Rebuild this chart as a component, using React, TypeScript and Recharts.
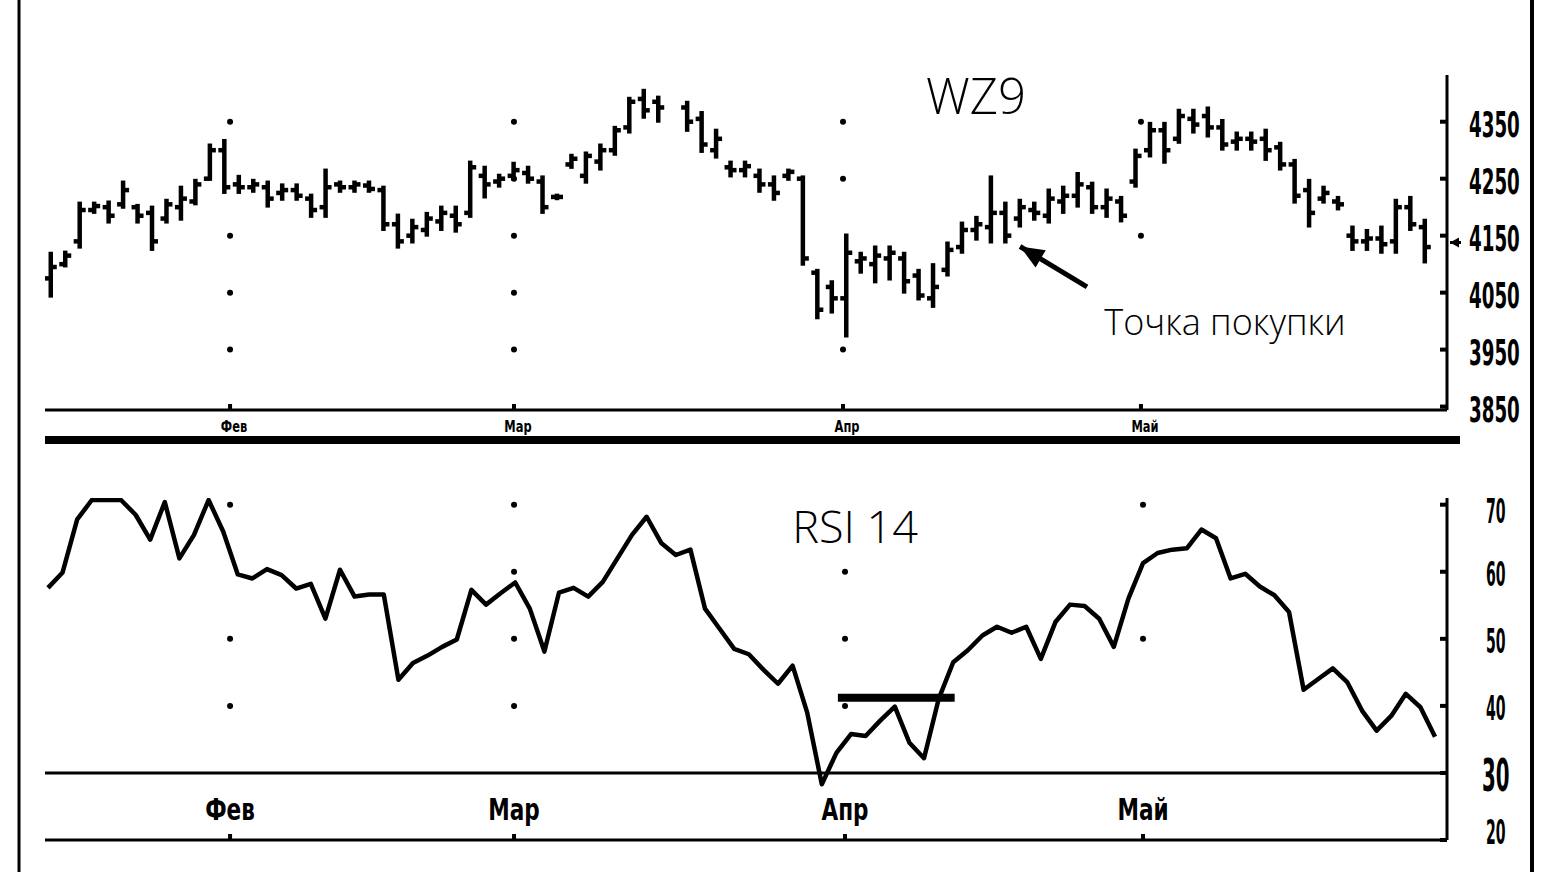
import React from 'react';
import { ComposedChart, Bar, Line, XAxis, YAxis, ReferenceLine, ReferenceDot } from 'recharts';

// WZ9 daily bars (index = trading day, 43 is a missing day)
const HIGH = [
  4120, 4122, 4208, 4208, 4210, 4245, 4204, 4201, 4213, 4236,
  4248, 4310, 4318, 4255, 4248, 4245, 4240, 4240, 4222, 4266,
  4245, 4245, 4245, 4236, 4187, 4178, 4190, 4201, 4201, 4280,
  4271, 4257, 4278, 4271, 4254, 4222, 4292, 4296, 4310, 4341,
  4392, 4406, 4394, null, 4385, 4367, 4336, 4280, 4280, 4266,
  4254, 4266, 4254, 4090, 4070, 4152, 4120, 4131, 4131, 4120,
  4090, 4100, 4138, 4173, 4183, 4254, 4208, 4213, 4208, 4231,
  4236, 4260, 4243, 4231, 4218, 4301, 4348, 4348, 4371, 4371,
  4375, 4353, 4331, 4331, 4336, 4313, 4283, 4248, 4236, 4218,
  4166, 4160, 4166, 4213, 4218, 4178,
];
const LOW = [
  4043, 4096, 4129, 4190, 4173, 4199, 4173, 4125, 4173, 4178,
  4205, 4248, 4225, 4225, 4227, 4201, 4213, 4213, 4183, 4183,
  4227, 4227, 4227, 4160, 4129, 4138, 4150, 4160, 4157, 4183,
  4217, 4236, 4248, 4243, 4190, 4214, 4269, 4243, 4266, 4292,
  4331, 4357, 4350, null, 4334, 4297, 4287, 4254, 4254, 4227,
  4213, 4248, 4099, 4005, 4015, 3973, 4085, 4068, 4073, 4050,
  4038, 4025, 4080, 4120, 4143, 4138, 4138, 4166, 4178, 4173,
  4190, 4201, 4190, 4183, 4175, 4236, 4289, 4278, 4313, 4331,
  4324, 4301, 4301, 4301, 4283, 4266, 4208, 4166, 4208, 4196,
  4125, 4125, 4120, 4120, 4160, 4103,
];
const OPEN = [
  4075, 4100, 4140, 4195, 4200, 4205, 4200, 4190, 4180, 4200,
  4210, 4250, 4300, 4240, 4235, 4235, 4225, 4230, 4215, 4200,
  4240, 4235, 4238, 4230, 4170, 4150, 4160, 4175, 4185, 4190,
  4255, 4245, 4255, 4260, 4245, 4218, 4275, 4255, 4280, 4300,
  4340, 4390, 4385, null, 4375, 4355, 4300, 4270, 4265, 4255,
  4240, 4255, 4250, 4085, 4060, 4040, 4105, 4100, 4110, 4110,
  4080, 4040, 4090, 4130, 4160, 4165, 4190, 4180, 4195, 4185,
  4210, 4220, 4235, 4200, 4210, 4245, 4300, 4335, 4320, 4355,
  4360, 4340, 4315, 4320, 4320, 4305, 4275, 4230, 4215, 4210,
  4150, 4140, 4145, 4140, 4200, 4165,
];
const CLOSE = [
  4095, 4115, 4195, 4202, 4185, 4230, 4185, 4140, 4205, 4215,
  4240, 4300, 4235, 4235, 4240, 4215, 4230, 4220, 4195, 4235,
  4235, 4240, 4232, 4170, 4140, 4165, 4180, 4190, 4170, 4270,
  4240, 4250, 4265, 4250, 4200, 4218, 4285, 4290, 4300, 4335,
  4385, 4370, 4375, null, 4350, 4310, 4320, 4265, 4272, 4240,
  4225, 4262, 4110, 4020, 4040, 4120, 4110, 4115, 4120, 4070,
  4045, 4060, 4125, 4160, 4170, 4190, 4150, 4200, 4190, 4215,
  4220, 4240, 4200, 4215, 4185, 4290, 4335, 4300, 4360, 4345,
  4340, 4310, 4320, 4315, 4300, 4275, 4220, 4190, 4225, 4205,
  4140, 4145, 4135, 4200, 4170, 4130,
];

// RSI 14
const RSI = [
  57.6, 59.9, 67.8, 70.7, 70.7, 70.7, 68.5, 64.8, 70.4, 62.0,
  65.5, 70.7, 66.0, 59.6, 59.0, 60.4, 59.5, 57.5, 58.2, 53.0,
  60.3, 56.3, 56.6, 56.6, 43.9, 46.4, 47.5, 48.8, 49.9, 57.3,
  55.1, 56.8, 58.4, 54.5, 48.1, 56.9, 57.6, 56.3, 58.5, 62.0,
  65.5, 68.2, 64.3, 62.5, 63.3, 54.5, 51.5, 48.5, 47.7, 45.4,
  43.3, 46.0, 39.0, 28.3, 33.0, 35.8, 35.5, 37.8, 39.9, 34.5,
  32.2, 41.0, 46.5, 48.3, 50.5, 51.8, 50.9, 51.8, 47.0, 52.5,
  55.1, 54.9, 53.0, 48.8, 56.0, 61.3, 62.8, 63.3, 63.5, 66.3,
  65.0, 59.0, 59.7, 57.8, 56.5, 54.0, 42.4, 44.0, 45.6, 43.5,
  39.3, 36.3, 38.5, 41.8, 39.8, 35.4,
];

const MONTHS = ['Фев', 'Мар', 'Апр', 'Май'];
const MONTH_POS_PRICE = [12.38, 32.01, 54.76, 75.36];
const MONTH_POS_RSI = [12.47, 31.92, 54.59, 75.0];

const PRICE_TICKS = [3850, 3950, 4050, 4150, 4250, 4350];
const RSI_TICKS = [20, 30, 40, 50, 60, 70];

// dotted grid marks visible in the picture: [month number, level]
const PRICE_DOTS: [number, number][] = [
  [0, 4350], [0, 4150], [0, 4050], [0, 3950],
  [1, 4350], [1, 4250], [1, 4150], [1, 4050], [1, 3950],
  [2, 4350], [2, 4250], [2, 3950],
  [3, 4350], [3, 4150],
];
const RSI_DOTS: [number, number][] = [
  [0, 70], [0, 50], [0, 40],
  [1, 70], [1, 60], [1, 50], [1, 40],
  [2, 60], [2, 50], [2, 40],
  [3, 70], [3, 50],
];

const LAST_PRICE = 4138;
const BUY_LEVEL = 41.2;
const BUY_FROM = 54.1;
const BUY_TO = 62.1;
const ARROW_TAIL = { x: 71.63, y: 4060 };
const ARROW_TIP = { x: 67.0, y: 4131 };

const PRICE_X_DOMAIN: [number, number] = [-0.415, 96.52];
const RSI_X_DOMAIN: [number, number] = [-0.205, 95.82];

const NARROW = '"DejaVu Sans Condensed", "Liberation Sans Narrow", sans-serif';
const LIGHT = '"Open Sans", "Noto Sans", sans-serif';

const priceData = HIGH.map((h, i) => ({
  i,
  range: h == null ? null : [LOW[i], h],
  high: h,
  low: LOW[i],
  open: OPEN[i],
  close: CLOSE[i],
}));

const rsiData = RSI.map((v, i) => ({ i, rsi: v }));

function OhlcBar(props: any) {
  const { x, y, width, height, payload } = props;
  if (payload == null || payload.high == null) return null;
  const top = Math.min(y, y + height);
  const h = Math.abs(height);
  const cx = x + width / 2;
  const span = payload.high - payload.low || 1;
  const yo = top + ((payload.high - payload.open) / span) * h;
  const yc = top + ((payload.high - payload.close) / span) * h;
  return (
    <g stroke="#000" strokeWidth={4.5}>
      <line x1={cx} y1={top - 1} x2={cx} y2={top + h + 1} />
      <line x1={cx - 6} y1={yo} x2={cx} y2={yo} />
      <line x1={cx} y1={yc} x2={cx + 6} y2={yc} />
    </g>
  );
}

// condensed label: squeezed horizontally with a transform
function Squeezed({ x, y, sx, size, anchor, children }: any) {
  return (
    <text
      transform={`translate(${x},${y}) scale(${sx},1)`}
      textAnchor={anchor || 'start'}
      fontFamily={NARROW}
      fontWeight={700}
      fontSize={size}
      fill="#000"
    >
      {children}
    </text>
  );
}

function PriceTick({ x, y, payload }: any) {
  return (
    <g>
      <line x1={x - 7} y1={y} x2={x} y2={y} stroke="#000" strokeWidth={4} />
      <Squeezed x={x + 22} y={y + 15} sx={0.58} size={35}>
        {payload.value}
      </Squeezed>
    </g>
  );
}

function RsiTick({ x, y, payload }: any) {
  const big = payload.value === 30;
  const shift = payload.value === 20 ? -8 : payload.value === 70 ? 6 : 2;
  return (
    <g>
      <line x1={x - 7} y1={y} x2={x} y2={y} stroke="#000" strokeWidth={4} />
      <Squeezed x={x + (big ? 35 : 39)} y={y + shift + (big ? 16 : 12)} sx={big ? 0.5 : 0.46} size={big ? 44 : 34}>
        {payload.value}
      </Squeezed>
    </g>
  );
}

function MonthTickPrice({ x, y, index }: any) {
  return (
    <g>
      <line x1={x} y1={y - 6} x2={x} y2={y} stroke="#000" strokeWidth={4} />
      <Squeezed x={x + 4} y={y + 22} sx={0.85} size={15} anchor="middle">
        {MONTHS[index]}
      </Squeezed>
    </g>
  );
}

function MonthTickRsi({ x, y, index }: any) {
  return (
    <g>
      <line x1={x} y1={y - 6} x2={x} y2={y} stroke="#000" strokeWidth={4} />
      <Squeezed x={x} y={y - 20} sx={0.8} size={30} anchor="middle">
        {MONTHS[index]}
      </Squeezed>
    </g>
  );
}

function ArrowHead({ cx, cy }: any) {
  if (cx == null || cy == null) return null;
  const ang = Math.atan2(-40, -67);
  const len = 24;
  const half = 10;
  const bx = cx - Math.cos(ang) * len;
  const by = cy - Math.sin(ang) * len;
  const px = -Math.sin(ang) * half;
  const py = Math.cos(ang) * half;
  return <polygon points={`${cx},${cy} ${bx + px},${by + py} ${bx - px},${by - py}`} fill="#000" />;
}

function LastPriceMark({ cx, cy }: any) {
  if (cx == null || cy == null) return null;
  return (
    <g>
      <polygon points={`${cx + 3},${cy} ${cx + 12},${cy - 5} ${cx + 12},${cy + 5}`} fill="#000" />
      <line x1={cx + 3} y1={cy} x2={cx + 14} y2={cy} stroke="#000" strokeWidth={3} />
    </g>
  );
}

const axisLine = { stroke: '#000', strokeWidth: 3 };

export default function App() {
  return (
    <div style={{ position: 'absolute', left: 0, top: 0, width: 1548, height: 872, background: '#fff', overflow: 'hidden' }}>
      <div style={{ position: 'absolute', left: 0, top: 0 }}>
        <ComposedChart width={1548} height={450} data={priceData} margin={{ top: 75, right: 6, bottom: 10, left: 45 }}>
          <XAxis
            dataKey="i"
            type="number"
            domain={PRICE_X_DOMAIN}
            allowDataOverflow
            ticks={MONTH_POS_PRICE}
            interval={0}
            height={30}
            tickSize={0}
            tickMargin={0}
            tickLine={false}
            axisLine={axisLine}
            tick={<MonthTickPrice />}
          />
          <YAxis
            orientation="right"
            type="number"
            domain={[3844, 4432]}
            allowDataOverflow
            ticks={PRICE_TICKS}
            interval={0}
            width={95}
            tickSize={0}
            tickMargin={0}
            tickLine={false}
            axisLine={axisLine}
            tick={<PriceTick />}
          />
          {PRICE_DOTS.map(([m, v]) => (
            <ReferenceDot key={`pd${m}-${v}`} x={MONTH_POS_PRICE[m]} y={v} r={3} fill="#000" stroke="none" />
          ))}
          <Bar dataKey="range" barSize={4} shape={<OhlcBar />} isAnimationActive={false} />
          <ReferenceLine
            segment={[ARROW_TAIL, ARROW_TIP]}
            stroke="#000"
            strokeWidth={5}
          />
          <ReferenceDot x={ARROW_TIP.x} y={ARROW_TIP.y} r={1} shape={<ArrowHead />} />
          <ReferenceDot x={PRICE_X_DOMAIN[1]} y={LAST_PRICE} r={1} shape={<LastPriceMark />} />
        </ComposedChart>
      </div>

      <div style={{ position: 'absolute', left: 0, top: 450 }}>
        <ComposedChart width={1548} height={422} data={rsiData} margin={{ top: 48, right: 6, bottom: 2, left: 45 }}>
          <XAxis
            dataKey="i"
            type="number"
            domain={RSI_X_DOMAIN}
            allowDataOverflow
            ticks={MONTH_POS_RSI}
            interval={0}
            height={30}
            tickSize={0}
            tickMargin={0}
            tickLine={false}
            axisLine={axisLine}
            tick={<MonthTickRsi />}
          />
          <YAxis
            orientation="right"
            type="number"
            domain={[20, 71]}
            allowDataOverflow
            ticks={RSI_TICKS}
            interval={0}
            width={95}
            tickSize={0}
            tickMargin={0}
            tickLine={false}
            axisLine={axisLine}
            tick={<RsiTick />}
          />
          {RSI_DOTS.map(([m, v]) => (
            <ReferenceDot key={`rd${m}-${v}`} x={MONTH_POS_RSI[m]} y={v} r={3} fill="#000" stroke="none" />
          ))}
          <ReferenceLine y={30} stroke="#000" strokeWidth={3} />
          <ReferenceLine
            segment={[{ x: BUY_FROM, y: BUY_LEVEL }, { x: BUY_TO, y: BUY_LEVEL }]}
            stroke="#000"
            strokeWidth={8}
          />
          <Line
            type="linear"
            dataKey="rsi"
            stroke="#000"
            strokeWidth={4.5}
            strokeLinejoin="round"
            dot={false}
            activeDot={false}
            isAnimationActive={false}
          />
        </ComposedChart>
      </div>

      <svg width={1548} height={872} style={{ position: 'absolute', left: 0, top: 0, pointerEvents: 'none' }}>
        <line x1={19} y1={0} x2={19} y2={872} stroke="#000" strokeWidth={3} />
        <line x1={1532} y1={0} x2={1532} y2={872} stroke="#000" strokeWidth={4} />
        <rect x={45} y={436} width={1415} height={8} fill="#000" />
        <text x={976} y={114} textAnchor="middle" fontFamily={LIGHT} fontWeight={300} fontSize={49} fill="#000">
          WZ9
        </text>
        <text x={855} y={543} textAnchor="middle" fontFamily={LIGHT} fontWeight={300} fontSize={45} fill="#000">
          RSI 14
        </text>
        <text x={1225} y={335} textAnchor="middle" fontFamily={LIGHT} fontWeight={300} fontSize={36} fill="#000">
          Точка покупки
        </text>
      </svg>
    </div>
  );
}
